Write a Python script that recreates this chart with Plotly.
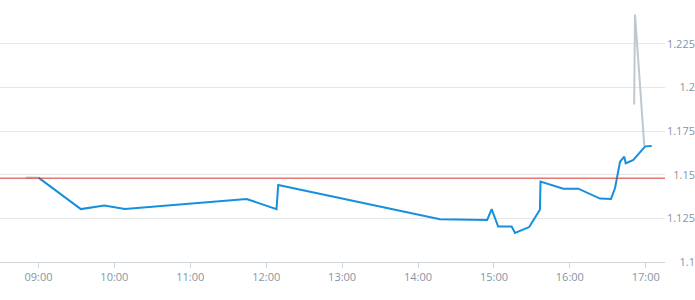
import plotly.graph_objects as go

DAY = "2024-01-02 "

blue_times = ["09:00:00", "09:33:30", "09:52:00", "10:08:20", "11:44:30", "12:08:10", "12:09:30",
              "14:17:20", "14:54:40", "14:58:10", "15:03:20", "15:14:00", "15:16:40", "15:27:50",
              "15:36:20", "15:36:50", "15:54:50", "16:06:40", "16:23:50", "16:32:30", "16:35:40",
              "16:37:00", "16:39:40", "16:43:00", "16:44:10", "16:47:00", "16:50:10", "16:59:30",
              "17:04:40"]
blue_values = [1.1483, 1.1303, 1.1323, 1.1303, 1.1361, 1.1303, 1.1441,
               1.1245, 1.1241, 1.1303, 1.1203, 1.1203, 1.1166, 1.1200,
               1.1299, 1.1460, 1.1420, 1.1420, 1.1363, 1.1361, 1.1422,
               1.1480, 1.1574, 1.1603, 1.1565, 1.1574, 1.1584, 1.1662,
               1.1664]

gray_times = ["08:50:00", "09:00:00", None, "16:50:50", "16:51:30", "16:58:50"]
gray_values = [1.1483, 1.1483, None, 1.1902, 1.2417, 1.1666]

ref_level = 1.148

y_ticks = [1.1, 1.125, 1.15, 1.175, 1.2, 1.225]
y_tick_labels = ["1.1", "1.125", "1.15", "1.175", "1.2", "1.225"]
x_ticks = ["09:00", "10:00", "11:00", "12:00", "13:00", "14:00", "15:00", "16:00", "17:00"]

def ts(t):
    return None if t is None else DAY + t

fig = go.Figure()
fig.add_trace(go.Scatter(x=[ts(t) for t in gray_times], y=gray_values, mode="lines",
                         line=dict(color="#bfc8cf", width=2), connectgaps=False,
                         hoverinfo="skip", showlegend=False))
fig.add_trace(go.Scatter(x=[ts(t) for t in blue_times], y=blue_values, mode="lines",
                         line=dict(color="#1690dd", width=2), showlegend=False))

fig.add_shape(type="line", xref="x domain", x0=0, x1=1, yref="y", y0=ref_level, y1=ref_level,
              line=dict(color="#d8322b", width=1))

font = dict(family="Open Sans", size=11, color="#8596a1")
fig.update_layout(
    width=695, height=300,
    margin=dict(l=0, r=0, t=0, b=38),
    paper_bgcolor="white", plot_bgcolor="white",
    font=font,
    xaxis=dict(
        domain=[0, 665 / 695],
        range=[DAY + "08:29:36", DAY + "17:15:12"],
        tickvals=[DAY + t + ":00" for t in x_ticks],
        ticktext=x_ticks,
        showgrid=False, zeroline=False,
        showline=True, linecolor="#cfd6db", linewidth=1,
        ticks="outside", ticklen=5, tickcolor="#cfd6db",
        tickfont=font,
    ),
    yaxis=dict(
        range=[1.1, 1.25],
        tickvals=y_ticks, ticktext=y_tick_labels,
        side="right", anchor="free", position=1.0,
        ticklabelposition="inside", ticklabeloverflow="allow",
        ticklabelstandoff=-3,
        showgrid=True, gridcolor="#e3e7ea", gridwidth=1,
        zeroline=False, showline=False, ticks="",
        tickfont=font,
    ),
)

fig.write_html("out.html")
